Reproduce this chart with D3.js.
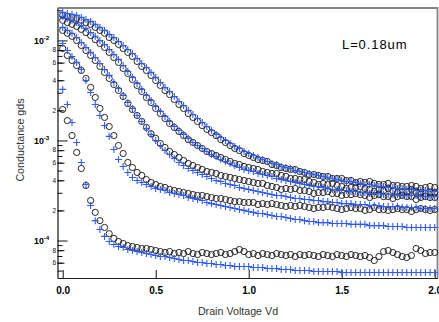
<!DOCTYPE html>
<html>
<head>
<meta charset="utf-8">
<script src="https://cdn.jsdelivr.net/npm/d3@7"></script>
<style>
  body { margin: 0; background: #fff; }
  svg { display: block; }
  text { font-family: "Liberation Sans", Arial, Helvetica, sans-serif; }
</style>
</head>
<body>
<svg id="chart" width="439" height="322"></svg>
<script>
// Drain voltage sweep (V)
const drainVoltage = [
  0, 0.025, 0.05, 0.075, 0.1, 0.125, 0.15, 0.175, 0.2, 0.225,
  0.25, 0.275, 0.3, 0.325, 0.35, 0.375, 0.4, 0.425, 0.45, 0.475,
  0.5, 0.525, 0.55, 0.575, 0.6, 0.625, 0.65, 0.675, 0.7, 0.725,
  0.75, 0.775, 0.8, 0.825, 0.85, 0.875, 0.9, 0.925, 0.95, 0.975,
  1.0, 1.025, 1.05, 1.075, 1.1, 1.125, 1.15, 1.175, 1.2, 1.225,
  1.25, 1.275, 1.3, 1.325, 1.35, 1.375, 1.4, 1.425, 1.45, 1.475,
  1.5, 1.525, 1.55, 1.575, 1.6, 1.625, 1.65, 1.675, 1.7, 1.725,
  1.75, 1.775, 1.8, 1.825, 1.85, 1.875, 1.9, 1.925, 1.95, 1.975,
  2.0
];

// Measured output conductance gds (S), one array per gate bias, highest first
const measured1 = [
  1.78e-2,1.74e-2,1.70e-2,1.66e-2,1.59e-2,1.51e-2,1.45e-2,1.35e-2,1.26e-2,1.18e-2,
  1.07e-2,1.00e-2,9.12e-3,8.32e-3,7.59e-3,6.92e-3,6.17e-3,5.50e-3,5.01e-3,4.47e-3,
  3.98e-3,3.55e-3,3.16e-3,2.88e-3,2.57e-3,2.29e-3,2.09e-3,1.86e-3,1.70e-3,1.55e-3,
  1.41e-3,1.29e-3,1.20e-3,1.12e-3,1.02e-3,9.55e-4,8.91e-4,8.32e-4,7.94e-4,7.41e-4,
  7.08e-4,6.76e-4,6.46e-4,6.31e-4,6.17e-4,5.75e-4,5.62e-4,5.37e-4,5.25e-4,5.13e-4,
  5.13e-4,4.90e-4,4.79e-4,4.57e-4,4.57e-4,4.47e-4,4.37e-4,4.37e-4,4.17e-4,4.17e-4,
  4.17e-4,3.98e-4,3.98e-4,3.80e-4,3.89e-4,3.80e-4,3.89e-4,3.72e-4,3.63e-4,3.63e-4,
  3.72e-4,3.55e-4,3.55e-4,3.47e-4,3.47e-4,3.55e-4,3.47e-4,3.31e-4,3.39e-4,3.47e-4,
  3.39e-4
];
const measured2 = [
  1.59e-2,1.51e-2,1.45e-2,1.38e-2,1.29e-2,1.20e-2,1.12e-2,1.02e-2,9.33e-3,8.51e-3,
  7.59e-3,6.76e-3,6.03e-3,5.25e-3,4.68e-3,4.07e-3,3.55e-3,3.09e-3,2.69e-3,2.40e-3,
  2.09e-3,1.86e-3,1.66e-3,1.48e-3,1.35e-3,1.23e-3,1.12e-3,1.02e-3,9.55e-4,8.91e-4,
  8.32e-4,7.76e-4,7.41e-4,7.08e-4,6.76e-4,6.46e-4,6.17e-4,5.89e-4,5.75e-4,5.50e-4,
  5.37e-4,5.25e-4,5.13e-4,4.90e-4,4.79e-4,4.68e-4,4.68e-4,4.47e-4,4.37e-4,4.17e-4,
  4.17e-4,4.07e-4,4.07e-4,3.89e-4,3.80e-4,3.63e-4,3.72e-4,3.63e-4,3.72e-4,3.55e-4,
  3.47e-4,3.31e-4,3.39e-4,3.39e-4,3.47e-4,3.31e-4,3.24e-4,3.09e-4,3.24e-4,3.16e-4,
  3.31e-4,3.16e-4,3.02e-4,3.09e-4,3.09e-4,3.24e-4,3.09e-4,3.02e-4,2.95e-4,3.02e-4,
  3.02e-4
];
const measured3 = [
  1.26e-2,1.18e-2,1.10e-2,1.00e-2,8.91e-3,7.94e-3,7.08e-3,6.31e-3,5.50e-3,4.79e-3,
  4.17e-3,3.63e-3,3.16e-3,2.75e-3,2.34e-3,2.04e-3,1.78e-3,1.55e-3,1.35e-3,1.17e-3,
  1.05e-3,9.33e-4,8.51e-4,7.76e-4,7.24e-4,6.76e-4,6.31e-4,5.89e-4,5.62e-4,5.37e-4,
  5.13e-4,4.90e-4,4.79e-4,4.68e-4,4.47e-4,4.37e-4,4.27e-4,4.17e-4,4.07e-4,3.98e-4,
  3.89e-4,3.80e-4,3.72e-4,3.72e-4,3.55e-4,3.47e-4,3.39e-4,3.24e-4,3.31e-4,3.24e-4,
  3.31e-4,3.16e-4,3.16e-4,3.09e-4,2.95e-4,3.02e-4,3.02e-4,3.09e-4,2.95e-4,2.95e-4,
  2.82e-4,2.88e-4,2.88e-4,2.95e-4,2.88e-4,2.82e-4,2.69e-4,2.82e-4,2.88e-4,2.75e-4,
  2.75e-4,2.63e-4,2.75e-4,2.82e-4,2.75e-4,2.75e-4,2.57e-4,2.69e-4,2.75e-4,2.69e-4,
  2.69e-4
];
const measured4 = [
  8.32e-3,7.08e-3,6.31e-3,5.62e-3,5.01e-3,4.17e-3,3.39e-3,2.69e-3,2.09e-3,1.70e-3,
  1.38e-3,1.12e-3,8.91e-4,7.41e-4,6.03e-4,5.37e-4,4.79e-4,4.47e-4,4.07e-4,3.80e-4,
  3.63e-4,3.47e-4,3.39e-4,3.24e-4,3.16e-4,3.09e-4,3.02e-4,2.95e-4,2.88e-4,2.82e-4,
  2.82e-4,2.75e-4,2.69e-4,2.63e-4,2.63e-4,2.57e-4,2.51e-4,2.45e-4,2.45e-4,2.40e-4,
  2.40e-4,2.40e-4,2.29e-4,2.34e-4,2.29e-4,2.34e-4,2.29e-4,2.24e-4,2.19e-4,2.24e-4,
  2.19e-4,2.24e-4,2.19e-4,2.14e-4,2.09e-4,2.14e-4,2.14e-4,2.19e-4,2.14e-4,2.09e-4,
  2.04e-4,2.09e-4,2.14e-4,2.09e-4,2.09e-4,2.00e-4,2.04e-4,2.14e-4,2.04e-4,2.04e-4,
  2.00e-4,2.04e-4,2.09e-4,2.04e-4,2.04e-4,1.95e-4,2.04e-4,2.09e-4,2.04e-4,2.00e-4,
  2.04e-4
];
const measured5 = [
  2.04e-3,1.58e-3,1.12e-3,7.59e-4,5.25e-4,3.55e-4,2.51e-4,1.91e-4,1.58e-4,1.35e-4,
  1.17e-4,1.05e-4,9.77e-5,9.33e-5,8.91e-5,8.71e-5,8.51e-5,8.32e-5,8.32e-5,8.13e-5,
  7.94e-5,7.76e-5,7.59e-5,7.76e-5,7.41e-5,7.59e-5,7.41e-5,7.76e-5,7.41e-5,7.24e-5,
  7.59e-5,7.41e-5,7.24e-5,7.41e-5,7.59e-5,7.24e-5,7.41e-5,7.76e-5,8.13e-5,7.76e-5,
  7.24e-5,7.41e-5,7.08e-5,7.41e-5,7.24e-5,7.08e-5,7.41e-5,7.24e-5,7.08e-5,7.24e-5,
  6.92e-5,7.24e-5,7.08e-5,7.24e-5,7.08e-5,6.92e-5,7.24e-5,7.08e-5,6.92e-5,7.24e-5,
  7.08e-5,6.92e-5,7.24e-5,7.08e-5,6.92e-5,7.08e-5,6.76e-5,6.31e-5,6.92e-5,7.76e-5,
  7.94e-5,7.59e-5,7.24e-5,6.92e-5,6.76e-5,7.08e-5,8.32e-5,7.94e-5,7.41e-5,7.59e-5,
  7.59e-5
];

// Simulated (model) gds for the same gate biases
const simulated1 = [
  1.91e-2,1.86e-2,1.82e-2,1.78e-2,1.70e-2,1.62e-2,1.55e-2,1.45e-2,1.35e-2,1.26e-2,
  1.15e-2,1.07e-2,9.77e-3,8.91e-3,8.13e-3,7.41e-3,6.61e-3,5.89e-3,5.37e-3,4.79e-3,
  4.27e-3,3.80e-3,3.39e-3,3.09e-3,2.75e-3,2.45e-3,2.24e-3,2.00e-3,1.82e-3,1.66e-3,
  1.51e-3,1.38e-3,1.26e-3,1.15e-3,1.07e-3,1.00e-3,9.33e-4,8.71e-4,8.32e-4,7.76e-4,
  7.41e-4,7.08e-4,6.76e-4,6.46e-4,6.17e-4,5.89e-4,5.75e-4,5.50e-4,5.37e-4,5.25e-4,
  5.01e-4,4.90e-4,4.79e-4,4.68e-4,4.57e-4,4.47e-4,4.37e-4,4.27e-4,4.17e-4,4.07e-4,
  3.98e-4,3.89e-4,3.89e-4,3.80e-4,3.72e-4,3.63e-4,3.63e-4,3.55e-4,3.47e-4,3.47e-4,
  3.39e-4,3.39e-4,3.31e-4,3.31e-4,3.24e-4,3.24e-4,3.16e-4,3.16e-4,3.16e-4,3.09e-4,
  3.09e-4
];
const simulated2 = [
  1.74e-2,1.66e-2,1.59e-2,1.51e-2,1.41e-2,1.32e-2,1.20e-2,1.10e-2,1.00e-2,9.12e-3,
  8.13e-3,7.24e-3,6.46e-3,5.62e-3,4.90e-3,4.27e-3,3.72e-3,3.24e-3,2.82e-3,2.51e-3,
  2.19e-3,1.95e-3,1.74e-3,1.55e-3,1.38e-3,1.26e-3,1.15e-3,1.05e-3,9.55e-4,8.91e-4,
  8.32e-4,7.76e-4,7.24e-4,6.92e-4,6.46e-4,6.17e-4,5.89e-4,5.62e-4,5.37e-4,5.13e-4,
  5.01e-4,4.90e-4,4.68e-4,4.57e-4,4.47e-4,4.37e-4,4.17e-4,4.07e-4,3.98e-4,3.89e-4,
  3.80e-4,3.72e-4,3.63e-4,3.55e-4,3.47e-4,3.47e-4,3.39e-4,3.31e-4,3.24e-4,3.24e-4,
  3.16e-4,3.16e-4,3.09e-4,3.09e-4,3.02e-4,3.02e-4,2.95e-4,2.95e-4,2.95e-4,2.88e-4,
  2.88e-4,2.88e-4,2.88e-4,2.82e-4,2.82e-4,2.82e-4,2.82e-4,2.75e-4,2.75e-4,2.75e-4,
  2.75e-4
];
const simulated3 = [
  1.35e-2,1.26e-2,1.18e-2,1.07e-2,9.55e-3,8.51e-3,7.59e-3,6.76e-3,5.89e-3,5.13e-3,
  4.47e-3,3.80e-3,3.31e-3,2.82e-3,2.40e-3,2.09e-3,1.78e-3,1.55e-3,1.32e-3,1.15e-3,
  1.00e-3,8.91e-4,7.94e-4,7.24e-4,6.61e-4,6.03e-4,5.62e-4,5.25e-4,5.01e-4,4.79e-4,
  4.57e-4,4.37e-4,4.17e-4,3.98e-4,3.89e-4,3.72e-4,3.63e-4,3.55e-4,3.39e-4,3.31e-4,
  3.24e-4,3.16e-4,3.09e-4,3.02e-4,2.95e-4,2.88e-4,2.82e-4,2.82e-4,2.75e-4,2.69e-4,
  2.63e-4,2.63e-4,2.57e-4,2.57e-4,2.51e-4,2.51e-4,2.45e-4,2.45e-4,2.40e-4,2.40e-4,
  2.34e-4,2.34e-4,2.34e-4,2.29e-4,2.29e-4,2.29e-4,2.24e-4,2.24e-4,2.24e-4,2.19e-4,
  2.19e-4,2.19e-4,2.19e-4,2.14e-4,2.14e-4,2.14e-4,2.14e-4,2.09e-4,2.09e-4,2.09e-4,
  2.09e-4
];
const simulated4 = [
  9.33e-3,7.94e-3,6.92e-3,6.03e-3,5.13e-3,3.98e-3,3.02e-3,2.29e-3,1.78e-3,1.41e-3,
  1.10e-3,8.13e-4,6.46e-4,5.50e-4,4.79e-4,4.27e-4,3.98e-4,3.80e-4,3.63e-4,3.47e-4,
  3.31e-4,3.24e-4,3.16e-4,3.02e-4,2.95e-4,2.88e-4,2.82e-4,2.69e-4,2.63e-4,2.57e-4,
  2.51e-4,2.40e-4,2.34e-4,2.29e-4,2.24e-4,2.19e-4,2.14e-4,2.09e-4,2.04e-4,2.00e-4,
  1.95e-4,1.91e-4,1.86e-4,1.86e-4,1.82e-4,1.78e-4,1.74e-4,1.74e-4,1.70e-4,1.66e-4,
  1.62e-4,1.62e-4,1.58e-4,1.55e-4,1.55e-4,1.51e-4,1.51e-4,1.51e-4,1.48e-4,1.48e-4,
  1.48e-4,1.48e-4,1.45e-4,1.45e-4,1.45e-4,1.45e-4,1.41e-4,1.41e-4,1.41e-4,1.41e-4,
  1.38e-4,1.38e-4,1.38e-4,1.38e-4,1.35e-4,1.35e-4,1.35e-4,1.35e-4,1.35e-4,1.35e-4,
  1.35e-4
];
const simulated5 = [
  3.24e-3,2.29e-3,1.51e-3,9.55e-4,6.03e-4,3.63e-4,2.24e-4,1.58e-4,1.29e-4,1.10e-4,
  9.77e-5,9.12e-5,8.71e-5,8.51e-5,8.13e-5,7.94e-5,7.76e-5,7.59e-5,7.41e-5,7.24e-5,
  7.08e-5,6.92e-5,6.92e-5,6.76e-5,6.61e-5,6.46e-5,6.31e-5,6.31e-5,6.17e-5,6.03e-5,
  6.03e-5,5.89e-5,5.89e-5,5.75e-5,5.75e-5,5.62e-5,5.62e-5,5.50e-5,5.50e-5,5.50e-5,
  5.50e-5,5.37e-5,5.37e-5,5.37e-5,5.25e-5,5.25e-5,5.25e-5,5.13e-5,5.13e-5,5.13e-5,
  5.01e-5,5.01e-5,5.01e-5,5.01e-5,4.90e-5,4.90e-5,4.90e-5,4.90e-5,4.90e-5,4.90e-5,
  4.79e-5,4.79e-5,4.79e-5,4.79e-5,4.79e-5,4.79e-5,4.79e-5,4.79e-5,4.79e-5,4.79e-5,
  4.79e-5,4.79e-5,4.79e-5,4.79e-5,4.79e-5,4.79e-5,4.79e-5,4.79e-5,4.79e-5,4.79e-5,
  4.79e-5
];

const measuredSeries = [measured1, measured2, measured3, measured4, measured5];
const simulatedSeries = [simulated1, simulated2, simulated3, simulated4, simulated5];

// Axis ticks and labels
const xTickValues = [0, 0.5, 1.0, 1.5, 2.0];
const yMajorTicks = [1e-2, 1e-3, 1e-4];
const yMajorExponents = ["-2", "-3", "-4"];
const yMinorMantissas = [2, 3, 4, 5, 6, 7, 8, 9];
const yLabelledMantissas = [2, 4, 6, 8];
const annotation = "L=0.18um";
const xTitle = "Drain Voltage Vd";
const yTitle = "Conductance gds";

const svg = d3.select("#chart");
const W = 439, H = 322;
const area = { left: 57.5, right: 437.5, top: 8, bottom: 278 };

svg.append("rect").attr("width", W).attr("height", H).attr("fill", "#fff");

const x = d3.scaleLinear().domain([-0.028, 2.015]).range([area.left, area.right]);
const y = d3.scaleLog().domain([4.22e-5, 2.11e-2]).range([area.bottom, area.top]);

// grey frame on top and right
svg.append("path")
  .attr("d", `M${area.left},${area.top}H${area.right}V${area.bottom}`)
  .attr("fill", "none").attr("stroke", "#858585").attr("stroke-width", 1.8);

// minor y ticks (2..9 within each decade)
const [yLo, yHi] = y.domain();
const mantissa = v => Math.round(v / Math.pow(10, Math.floor(Math.log10(v) + 1e-9)));
const yMinor = [];
[1e-5, 1e-4, 1e-3, 1e-2].forEach(dec => {
  yMinorMantissas.forEach(m => {
    const v = m * dec;
    if (v >= yLo && v <= yHi) yMinor.push(v);
  });
});
// labelled minors sit well inside the frame
const yMinorLabelled = yMinor.filter(v => yLabelledMantissas.includes(mantissa(v)) && y(v) > area.top + 8);

svg.append("g").attr("transform", `translate(${area.left},0)`)
  .call(d3.axisLeft(y).tickValues(yMinorLabelled).tickSize(-7).tickFormat(""))
  .call(g => g.select(".domain").remove())
  .call(g => g.selectAll("line").attr("stroke", "#111"));

svg.append("g").attr("transform", `translate(${area.left},0)`)
  .call(d3.axisLeft(y).tickValues(yMinor).tickSize(-5).tickFormat(""))
  .call(g => g.select(".domain").remove())
  .call(g => g.selectAll("line").attr("stroke", "#111"));

// major y ticks and axis line
svg.append("g").attr("transform", `translate(${area.left},0)`)
  .call(d3.axisLeft(y).tickValues(yMajorTicks).tickSize(-10).tickSizeOuter(0).tickFormat(""))
  .call(g => g.select(".domain").attr("stroke", "#111").attr("stroke-width", 1.2))
  .call(g => g.selectAll("line").attr("stroke", "#111"));

// minor labels 2,4,6,8
yMinorLabelled.forEach(v => {
  svg.append("text")
    .attr("x", area.left - 1.5).attr("y", y(v) + 2.3)
    .attr("text-anchor", "end")
    .attr("font-size", 6.5).attr("fill", "#111")
    .text(mantissa(v));
});

// decade labels 10^n
yMajorTicks.forEach((v, i) => {
  const t = svg.append("text")
    .attr("x", 34).attr("y", y(v) + 3.2)
    .attr("font-size", 8.8).attr("font-weight", "bold").attr("fill", "#000");
  t.append("tspan").text("10");
  t.append("tspan").attr("dy", -4).attr("font-size", 6.2).text(yMajorExponents[i]);
});

// x axis
svg.append("g").attr("transform", `translate(0,${area.bottom})`)
  .call(d3.axisBottom(x).tickValues(xTickValues)
    .tickSize(-8).tickSizeOuter(0).tickPadding(9)
    .tickFormat(d3.format(".1f")))
  .call(g => g.select(".domain").attr("stroke", "#222").attr("stroke-width", 1.2))
  .call(g => g.selectAll("line").attr("stroke", "#111"))
  .call(g => g.selectAll("text")
    .attr("font-family", "'Liberation Sans', Arial, sans-serif")
    .attr("font-size", 10).attr("font-weight", "bold").attr("fill", "#000"));

// axis titles
svg.append("text")
  .attr("x", 238).attr("y", 315)
  .attr("text-anchor", "middle").attr("font-size", 10.7).attr("fill", "#333")
  .text(xTitle);
svg.append("text")
  .attr("transform", "translate(24,140) rotate(-90)")
  .attr("text-anchor", "middle").attr("font-size", 10.7).attr("fill", "#333")
  .text(yTitle);

// device annotation
svg.append("text")
  .attr("x", 342).attr("y", 48.5)
  .attr("font-size", 13).attr("letter-spacing", 0.9).attr("fill", "#000")
  .text(annotation);

// measured points: open circles
const pts = svg.append("g");
measuredSeries.forEach(series => {
  pts.append("g").selectAll("circle")
    .data(series.map((g, i) => [drainVoltage[i], g]))
    .join("circle")
    .attr("cx", d => x(d[0])).attr("cy", d => y(d[1]))
    .attr("r", 3.1)
    .attr("fill", "none").attr("stroke", "#111").attr("stroke-width", 0.9);
});

// simulated points: blue crosses
const plusPath = "M-3.5,0H3.5M0,-3.5V3.5";
simulatedSeries.forEach(series => {
  pts.append("g").selectAll("path")
    .data(series.map((g, i) => [drainVoltage[i], g]))
    .join("path")
    .attr("transform", d => `translate(${x(d[0])},${y(d[1])})`)
    .attr("d", plusPath)
    .attr("fill", "none").attr("stroke", "#2f5cf7").attr("stroke-width", 1.1);
});
</script>
</body>
</html>
